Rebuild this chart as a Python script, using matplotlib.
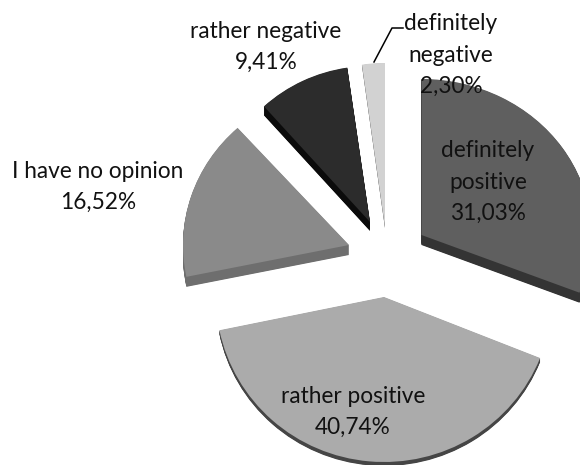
import numpy as np
import matplotlib
matplotlib.use('Agg')
import matplotlib.pyplot as plt
from matplotlib.patches import Wedge
from matplotlib.transforms import Affine2D

# data
categories = ['definitely\npositive', 'rather positive', 'I have no opinion', 'rather negative', 'definitely\nnegative']
shares = [31.03, 40.74, 16.52, 9.41, 2.30]

# look of each slice
top_colors = ['#5f5f5f', '#ababab', '#8a8a8a', '#2c2c2c', '#d2d2d2']
side_colors = ['#343434', '#454545', '#6e6e6e', '#0b0b0b', '#6a6a6a']
centre = (388, 250)
shift = [(33.5, -15), (-4, 47), (-39, -5), (-18, -28), (-3, -23)]  # exploded slices
radius_x = [170, 168, 166, 158, 160]
radius_y = [156, 165, 158, 156, 164]
depth = [10, 4, 10, 9, 1]
label_pos = [(488, 182), (353, 412), (98, 187), (266, 47), (451, 55)]

plt.rcParams['font.family'] = ['Lato', 'DejaVu Sans']

fig = plt.figure(figsize=(5.8, 4.65), dpi=100)
ax = fig.add_axes([0, 0, 1, 1])
ax.set_xlim(0, 580)
ax.set_ylim(465, 0)
ax.axis('off')

# angles run clockwise from the top, y axis is flipped so wedge degrees go the same way
edges = np.cumsum([0] + shares) / sum(shares) * 360 - 90

for i in range(len(shares)):
    cx = centre[0] + shift[i][0]
    cy = centre[1] + shift[i][1]
    # side first, stacked copies moved down
    for d in list(np.arange(depth[i], 0, -0.5)) + [0]:
        color = top_colors[i] if d == 0 else side_colors[i]
        tr = Affine2D().scale(radius_x[i], radius_y[i]).translate(cx, cy + d) + ax.transData
        ax.add_patch(Wedge((0, 0), 1, edges[i], edges[i + 1], facecolor=color, linewidth=0, transform=tr))

for i in range(len(shares)):
    label = categories[i] + '\n' + f'{shares[i]:.2f}'.replace('.', ',') + '%'
    ax.text(label_pos[i][0], label_pos[i][1], label, ha='center', va='center', fontsize=16.3,
            color='#111111', linespacing=1.59, zorder=5)

# leader line of the smallest slice
ax.plot([374, 392, 403], [62, 28, 28], color='black', linewidth=1.1, zorder=4)

fig.savefig('out.png', dpi=100)
